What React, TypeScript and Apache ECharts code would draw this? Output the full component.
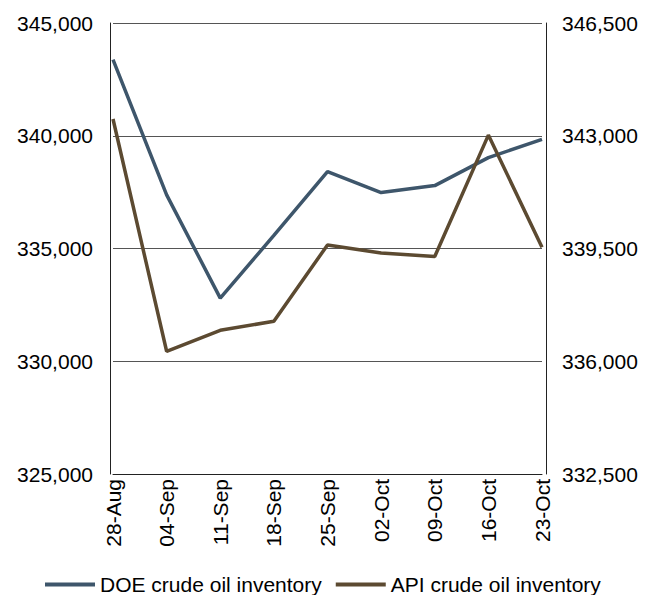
import React, { useEffect, useRef } from "react";
import * as echarts from "echarts";

const categories = ["28-Aug", "04-Sep", "11-Sep", "18-Sep", "25-Sep", "02-Oct", "09-Oct", "16-Oct", "23-Oct"];
const doeValues = [343380, 337380, 332800, 335580, 338410, 337480, 337790, 339030, 339840];
const apiValues = [343520, 336310, 336960, 337240, 339610, 339360, 339250, 343020, 339540];
const leftAxis = { min: 325000, max: 345000, interval: 5000 };
const rightAxis = { min: 332500, max: 346500, interval: 3500 };

const FONT = "'Liberation Sans', Arial, sans-serif";
const fmt = (v: number) => v.toLocaleString("en-US");

export default function App() {
  const ref = useRef<HTMLDivElement>(null);
  useEffect(() => {
    if (!ref.current) return;
    const chart = echarts.init(ref.current, undefined, { renderer: "svg" });
    chart.setOption({
      animation: false,
      textStyle: { fontFamily: FONT },
      grid: { left: 113, right: 111, top: 23, bottom: 121, containLabel: false },
      legend: {
        left: 40,
        top: 569,
        itemWidth: 50,
        itemHeight: 4,
        itemGap: 14,
        icon: "rect",
        textStyle: { fontSize: 21, color: "#000", fontFamily: FONT },
        data: ["DOE crude oil inventory", "API crude oil inventory"],
      },
      xAxis: {
        type: "category",
        data: categories,
        boundaryGap: false,
        axisLine: { show: true, lineStyle: { color: "#222", width: 1 } },
        axisTick: { show: false },
        axisLabel: { rotate: 90, fontSize: 21, color: "#000", margin: 5, interval: 0, fontFamily: FONT },
        splitLine: { show: false },
      },
      yAxis: [
        {
          type: "value",
          position: "left",
          offset: 3,
          min: leftAxis.min,
          max: leftAxis.max,
          interval: leftAxis.interval,
          axisLine: { show: true, lineStyle: { color: "#222", width: 1 } },
          axisTick: { show: false },
          axisLabel: { fontSize: 21, color: "#000", margin: 17, formatter: fmt, fontFamily: FONT },
          splitLine: { show: true, lineStyle: { color: "#555", width: 1 } },
        },
        {
          type: "value",
          position: "right",
          offset: 4,
          min: rightAxis.min,
          max: rightAxis.max,
          interval: rightAxis.interval,
          axisLine: { show: true, lineStyle: { color: "#222", width: 1 } },
          axisTick: { show: false },
          axisLabel: { fontSize: 21, color: "#000", margin: 16, formatter: fmt, fontFamily: FONT },
          splitLine: { show: false },
        },
      ],
      series: [
        {
          name: "DOE crude oil inventory",
          type: "line",
          yAxisIndex: 0,
          data: doeValues,
          symbol: "none",
          lineStyle: { color: "#3e566b", width: 3.5 },
          itemStyle: { color: "#3e566b" },
        },
        {
          name: "API crude oil inventory",
          type: "line",
          yAxisIndex: 1,
          data: apiValues,
          symbol: "none",
          lineStyle: { color: "#5c4a31", width: 3.5 },
          itemStyle: { color: "#5c4a31" },
        },
      ],
    });
    return () => chart.dispose();
  }, []);
  return <div ref={ref} style={{ width: 653, height: 595, position: "absolute", left: 0, top: 0 }} />;
}
